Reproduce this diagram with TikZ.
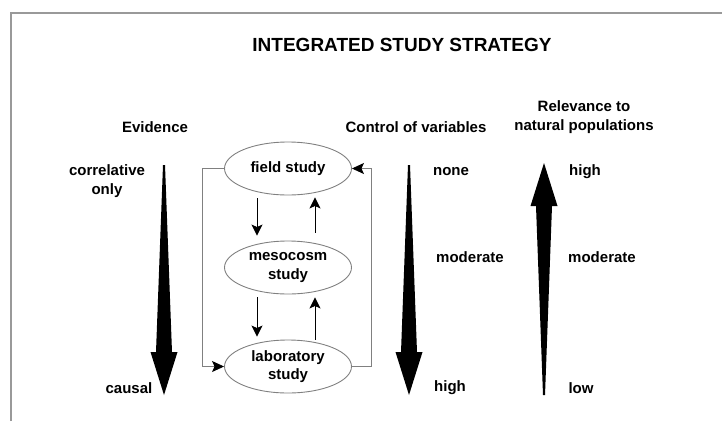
\documentclass[tikz,border=0pt]{standalone}
\usepackage{fontspec}
\setmainfont{Liberation Sans}
\usetikzlibrary{arrows.meta,shapes.geometric}

% tapered arrow: x, tail y, tip y
\newcommand{\wedgearrow}[3]{%
	\pgfmathsetmacro{\headbase}{#3-43*sign(#3-#2)}
	\fill (#1-1,#2) -- (#1+1,#2) -- (#1+8,\headbase) -- (#1+13.5,\headbase)
		-- (#1,#3) -- (#1-13.5,\headbase) -- (#1-8,\headbase) -- cycle;}

\begin{document}
\begin{tikzpicture}
	[x=1pt,y=-1pt,>={Stealth[length=11pt,width=11pt,inset=2.5pt]},
		lbl/.style={font=\fontsize{15}{18.5}\selectfont\bfseries,align=center},
		study node/.style={ellipse,draw=gray,line width=0.9pt,minimum width=127pt,minimum height=53pt,inner sep=0pt,lbl},
		link/.style={->,line width=0.9pt},
		loop line/.style={-{Stealth[length=12pt,width=11pt,inset=2.5pt,color=black]},draw=gray,line width=0.9pt}]

	\useasboundingbox (0,0) rectangle (722,421);
	\draw[gray!80,line width=1.5pt] (11,421) |- (722,13);

	\node[font=\fontsize{19}{23}\selectfont\bfseries] (title) at (402,45) {INTEGRATED STUDY STRATEGY};

	\node[lbl] (evidence) at (155,127) {Evidence};
	\node[lbl] (control) at (416,127) {Control of variables};
	\node[lbl] (relevance) at (584,117) {Relevance to\\natural populations};

	\node[lbl] (correl) at (107,181) {correlative\\only};
	\node[lbl] (causal) at (129,388) {causal};

	\node[lbl] (none) at (451,172) {none};
	\node[lbl] (cmod) at (470,257) {moderate};
	\node[lbl] (chigh) at (450,388) {high};

	\node[lbl] (rhigh) at (585,172) {high};
	\node[lbl] (rmod) at (602,257) {moderate};
	\node[lbl] (rlow) at (581,388) {low};

	\node[study node] (field) at (288,168.5) {field study};
	\node[study node] (meso) at (288,267.5) {mesocosm\\study};
	\node[study node] (lab) at (288,366.5) {laboratory\\study};

	\draw[link] ([xshift=-31pt,yshift=-3pt]field.south) -- ([xshift=-31pt,yshift=5pt]meso.north);
	\draw[link] ([xshift=27pt,yshift=8pt]meso.north) -- ([xshift=27pt,yshift=-2pt]field.south);
	\draw[link] ([xshift=-31pt,yshift=-3pt]meso.south) -- ([xshift=-31pt,yshift=3pt]lab.north);
	\draw[link] ([xshift=27pt]lab.north) -- ([xshift=27pt,yshift=-3pt]meso.south);

	\draw[loop line] (field.west) -- ++(-22,0) |- (lab.west);
	\draw[loop line] (lab.east) -- ++(19,0) |- (field.east);

	\wedgearrow{164}{165}{395}
	\wedgearrow{409}{165}{395}
	\wedgearrow{544}{395}{163}

\end{tikzpicture}
\end{document}
